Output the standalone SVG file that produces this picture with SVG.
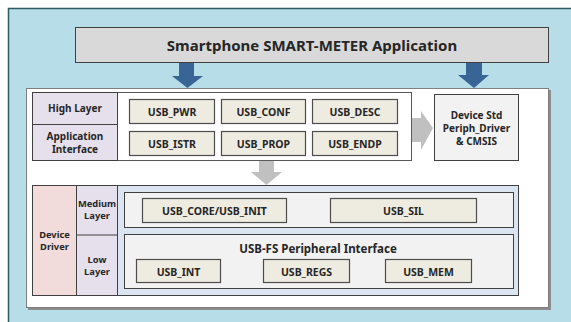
<svg xmlns="http://www.w3.org/2000/svg" width="571" height="322" viewBox="0 0 571 322">
<defs>
<style>
text{font-family:"Noto Sans","Open Sans","Liberation Sans",sans-serif;font-weight:bold;fill:#262626;text-anchor:middle;dominant-baseline:central}
.cell{fill:#eeece1;stroke:#4d4d4d;stroke-width:1.2}
.t10{font-size:10.5px}
.lbl{font-size:10px}
.sm{font-size:9.3px}
.blue{fill:#386496}
.gray{fill:#c0c0c0}
</style>
</defs>
<rect x="0" y="0" width="571" height="322" fill="#ffffff"/>
<rect x="8.5" y="8.5" width="580" height="330" fill="#b7dde8" stroke="#2e5a62" stroke-width="1.5"/>

<g id="title">
<rect x="75.5" y="27.5" width="473" height="35" fill="#d9d9d9" stroke="#404040" stroke-width="1"/>
<text x="312" y="45" style="font-size:15px">Smartphone SMART-METER Application</text>
</g>

<g id="panel">
<rect x="28" y="90" width="523" height="220" fill="#8c8c8c"/>
<rect x="26.5" y="88.5" width="522" height="219" fill="#ffffff" stroke="#7f7f7f" stroke-width="1"/>
</g>

<g id="connectors">
<polygon class="blue" points="179,63 194,63 194,76 203,76 187.5,88 172,76 179,76"/>
<polygon class="blue" points="466,63 482,63 482,75 489,75 474,88 458,75 466,75"/>
<polygon class="gray" points="411,118 421,118 421,111 433,128 421,150 421,142 411,142"/>
<polygon class="gray" points="259,161 274,161 274,172 282,172 266.5,185 251,172 259,172"/>
</g>

<g id="high-layer">
<rect x="32.5" y="92.5" width="379" height="68" fill="#ffffff" stroke="#595959" stroke-width="1"/>
<rect x="32.5" y="92.5" width="85" height="68" fill="#e5e0ec" stroke="#404040" stroke-width="1"/>
<line x1="32.5" y1="124.5" x2="117.5" y2="124.5" stroke="#404040" stroke-width="1"/>
<text class="lbl" x="75" y="108">High Layer</text>
<text class="lbl" x="75" y="136">Application</text>
<text class="lbl" x="75" y="149">Interface</text>
</g>

<g id="usb_pwr"><rect class="cell" x="129.5" y="99.5" width="85" height="24"/><text class="t10" x="172" y="112">USB_PWR</text></g>
<g id="usb_conf"><rect class="cell" x="221.5" y="99.5" width="84" height="24"/><text class="t10" x="263.5" y="112">USB_CONF</text></g>
<g id="usb_desc"><rect class="cell" x="312.5" y="99.5" width="85" height="24"/><text class="t10" x="355" y="112">USB_DESC</text></g>
<g id="usb_istr"><rect class="cell" x="129.5" y="131.5" width="85" height="24"/><text class="t10" x="172" y="144">USB_ISTR</text></g>
<g id="usb_prop"><rect class="cell" x="221.5" y="131.5" width="84" height="24"/><text class="t10" x="263.5" y="144">USB_PROP</text></g>
<g id="usb_endp"><rect class="cell" x="312.5" y="131.5" width="85" height="24"/><text class="t10" x="355" y="144">USB_ENDP</text></g>

<g id="device-std">
<rect x="434.5" y="94.5" width="84" height="66" fill="#f2f2f2" stroke="#404040" stroke-width="1"/>
<text class="lbl" x="476.5" y="115">Device Std</text>
<text class="lbl" x="476.5" y="128">Periph_Driver</text>
<text class="lbl" x="476.5" y="141">&amp; CMSIS</text>
</g>

<g id="driver">
<rect x="32.5" y="185.5" width="486" height="110" fill="#dbe5f1" stroke="#404040" stroke-width="1"/>
<rect x="32.5" y="185.5" width="44" height="110" fill="#f2dcdb" stroke="#404040" stroke-width="1"/>
<rect x="76.5" y="185.5" width="41" height="110" fill="#e5e0ec" stroke="#404040" stroke-width="1"/>
<line x1="76.5" y1="235" x2="117.5" y2="235" stroke="#404040" stroke-width="1"/>
<text class="sm" x="54.5" y="234">Device</text>
<text class="sm" x="54.5" y="246.5">Driver</text>
<text class="sm" x="97" y="203">Medium</text>
<text class="sm" x="97" y="215.5">Layer</text>
<text class="sm" x="97" y="259">Low</text>
<text class="sm" x="97" y="271.5">Layer</text>
</g>

<g id="medium-box">
<rect x="124.5" y="192.5" width="389" height="35" fill="#f2f2f2" stroke="#404040" stroke-width="1"/>
</g>
<g id="usb_core"><rect class="cell" x="142.5" y="198.5" width="144" height="24"/><text class="t10" x="214.5" y="211">USB_CORE/USB_INIT</text></g>
<g id="usb_sil"><rect class="cell" x="330.5" y="198.5" width="146" height="24"/><text class="t10" x="403.5" y="211">USB_SIL</text></g>

<g id="low-box">
<rect x="124.5" y="234.5" width="389" height="54" fill="#f2f2f2" stroke="#404040" stroke-width="1"/>
<text x="318" y="248" style="font-size:11.5px">USB-FS Peripheral Interface</text>
</g>
<g id="usb_int"><rect class="cell" x="136.5" y="259.5" width="84" height="23"/><text class="t10" x="178.5" y="271.5">USB_INT</text></g>
<g id="usb_regs"><rect class="cell" x="263.5" y="259.5" width="86" height="23"/><text class="t10" x="306.5" y="271.5">USB_REGS</text></g>
<g id="usb_mem"><rect class="cell" x="385.5" y="259.5" width="86" height="23"/><text class="t10" x="428.5" y="271.5">USB_MEM</text></g>
</svg>
